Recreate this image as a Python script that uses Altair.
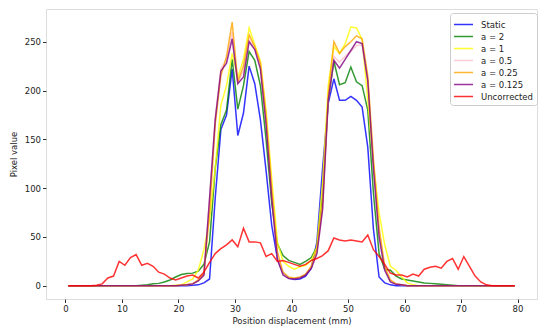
import altair as alt
import pandas as pd

# sample positions (mm)
position = [i + 0.5 for i in range(80)]

series_names = ["Static", "a = 2", "a = 1", "a = 0.5", "a = 0.25", "a = 0.125", "Uncorrected"]
series_colors = ["#0000ff", "#008000", "#ffff00", "#ffc0cb", "#ffa500", "#800080", "#ff0000"]

static = [0, 0, 0, 0, 0, 0, 0, 0, 0, 0,
          0, 0, 0, 0, 0, 0, 0, 0, 0, 0,
          0, 0, 0.5, 1, 3, 7, 90, 160, 175, 222,
          154, 177, 225, 207, 170, 118, 62, 28, 13, 8,
          6.5, 7, 10, 18, 45, 120, 187, 212, 190, 190,
          194, 190, 183, 142, 58, 9, 3, 1, 0, 0,
          0, 0, 0, 0, 0, 0, 0, 0, 0, 0,
          0, 0, 0, 0, 0, 0, 0, 0, 0, 0]

a2 = [0, 0, 0, 0, 0, 0, 0, 0, 0, 0,
      0, 0, 0, 0.5, 1, 2, 2.5, 4, 6, 9,
      11.5, 12.5, 13, 15, 22, 45, 120, 165, 180, 232,
      181, 205, 240, 231, 205, 150, 85, 43, 31, 26,
      24, 22, 25, 29, 40, 95, 190, 230, 206, 208,
      224, 209, 205, 180, 95, 33, 17, 16, 10, 7,
      6, 5, 4, 3, 2.5, 2, 1.5, 1, 0.5, 0,
      0, 0, 0, 0, 0, 0, 0, 0, 0, 0]

a1 = [0, 0, 0, 0, 0, 0, 0, 0, 0, 0,
      0, 0, 0, 0, 0, 0, 0, 0, 0, 0.5,
      1, 4, 7, 16, 37, 68, 120, 185, 205, 238,
      213, 232, 264, 247, 230, 180, 110, 45, 25, 20,
      17, 19.5, 21, 26, 40, 105, 205, 245, 238, 248,
      265, 264, 252, 190, 125, 75, 42, 20, 16, 9,
      3, 1, 0, 0, 0, 0, 0, 0, 0, 0,
      0, 0, 0, 0, 0, 0, 0, 0, 0, 0]

a05 = [0, 0, 0, 0, 0, 0, 0, 0, 0, 0,
       0, 0, 0, 0, 0, 0, 0, 0, 0, 0,
       0.5, 1, 2, 5, 11, 88, 172, 222, 232, 260,
       208, 220, 252, 243, 225, 170, 95, 30, 12, 8,
       7.5, 8.5, 12, 19, 35, 80, 190, 235, 229, 235,
       240, 246, 247, 212, 125, 55, 18, 5, 2, 1,
       0, 0, 0, 0, 0, 0, 0, 0, 0, 0,
       0, 0, 0, 0, 0, 0, 0, 0, 0, 0]

a025 = [0, 0, 0, 0, 0, 0, 0, 0, 0, 0,
        0, 0, 0, 0, 0, 0, 0, 0, 0, 0,
        0.5, 1, 2, 6, 13, 75, 165, 215, 235, 270,
        209, 225, 257, 245, 228, 175, 100, 35, 14, 9,
        8, 9, 12, 20, 38, 85, 195, 250, 238, 245,
        250, 256, 253, 215, 130, 60, 20, 6, 2, 1,
        0, 0, 0, 0, 0, 0, 0, 0, 0, 0,
        0, 0, 0, 0, 0, 0, 0, 0, 0, 0]

a0125 = [0, 0, 0, 0, 0, 0, 0, 0, 0, 0,
         0, 0, 0, 0, 0, 0, 0, 0, 0, 0,
         0.5, 1, 2, 5, 11, 90, 170, 220, 228, 253,
         207, 214, 250, 242, 222, 165, 90, 27, 11, 7.5,
         7, 8, 11, 18, 33, 78, 190, 231, 223, 232,
         241, 250, 248, 210, 120, 50, 16, 4, 1.5, 1,
         0, 0, 0, 0, 0, 0, 0, 0, 0, 0,
         0, 0, 0, 0, 0, 0, 0, 0, 0, 0]

uncorrected = [0, 0, 0, 0, 0, 0.5, 2, 8, 10, 25,
               21, 29, 32, 21, 23, 20, 14, 12, 8, 6,
               8, 10, 11, 8, 14, 24, 33, 38, 42, 47,
               40, 59, 45, 45, 44, 30, 33, 25, 26, 24,
               22, 20, 22, 26, 28, 31, 36, 49, 47, 46,
               47, 46, 45, 52, 37, 30, 22, 13, 11, 11,
               9, 12, 10, 17, 19, 20, 18, 25, 28, 17,
               30, 20, 10, 4, 1, 0, 0, 0, 0, 0]

x_ticks = [0, 10, 20, 30, 40, 50, 60, 70, 80]
y_ticks = [0, 50, 100, 150, 200, 250]

all_series = [static, a2, a1, a05, a025, a0125, uncorrected]
rows = []
for s_idx, (name, vals) in enumerate(zip(series_names, all_series)):
    assert len(vals) == len(position), name
    for xv, yv in zip(position, vals):
        rows.append({"series": name, "s": s_idx, "x": xv, "v": yv})
df = pd.DataFrame(rows)

FONT = "DejaVu Sans"

chart = alt.Chart(df).mark_line(strokeWidth=1.5, opacity=0.8).encode(
    x=alt.X("x:Q",
            scale=alt.Scale(domain=[-3.45, 83.45], nice=False, zero=False),
            axis=alt.Axis(values=x_ticks, title="Position displacement (mm)", grid=False,
                          domain=False, tickSize=3.5, tickColor="#333", labelPadding=2,
                          labelColor="#222", titleColor="#222", titlePadding=3,
                          labelFontSize=8.5, titleFontSize=8.5, titleFontWeight="normal")),
    y=alt.Y("v:Q",
            scale=alt.Scale(domain=[-13.5, 283.5], nice=False, zero=False),
            axis=alt.Axis(values=y_ticks, title="Pixel value", grid=False,
                          domain=False, tickSize=3.5, tickColor="#333", labelPadding=2,
                          labelColor="#222", titleColor="#222", titlePadding=6,
                          labelFontSize=8.5, titleFontSize=8.5, titleFontWeight="normal")),
    color=alt.Color("series:N",
                    scale=alt.Scale(domain=series_names, range=series_colors),
                    sort=series_names,
                    legend=alt.Legend(title=None, orient="none", legendX=404, legendY=4,
                                      symbolType="M-1.44,0H1.44", symbolSize=174,
                                      symbolStrokeWidth=1.5, symbolOffset=2,
                                      labelOffset=10, labelFontSize=8.5, labelFont=FONT,
                                      labelColor="#222", padding=4, rowPadding=0,
                                      strokeColor="#cccccc", fillColor="white",
                                      cornerRadius=3)),
    order=alt.Order("x:Q"),
).properties(
    width=491, height=290,
    autosize=alt.AutoSizeParams(type="none"),
    padding={"left": 38, "top": 1, "right": 5, "bottom": 30},
).configure_view(
    stroke="#333", strokeWidth=1
).configure(
    font=FONT
).configure_axis(
    labelFont=FONT, titleFont=FONT
)

chart.save("out.html", embed_options={"renderer": "svg", "actions": False})
